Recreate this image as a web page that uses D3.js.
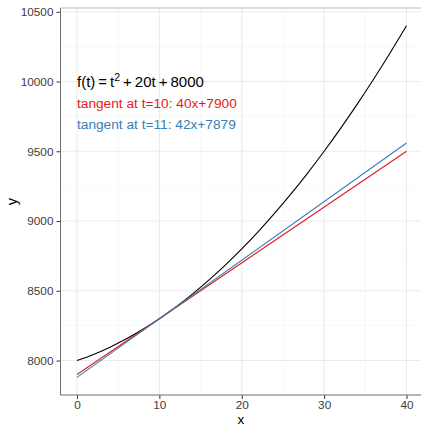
<!DOCTYPE html>
<html>
<head>
<meta charset="utf-8">
<script src="https://cdn.jsdelivr.net/npm/d3@7"></script>
<style>
  body { margin: 0; background: #fff; }
  text { font-family: "Liberation Sans", Arial, sans-serif; }
</style>
</head>
<body>
<div id="svg-container"></div>
<script>
////////////////////////////////////////////////////////////////////
////////////////////////////  Data  ////////////////////////////////
// curve f(t), read off at every 2 units of t
const curveT = [0, 2, 4, 6, 8, 10, 12, 14, 16, 18, 20, 22, 24, 26, 28, 30, 32, 34, 36, 38, 40];
const curveY = [8000, 8044, 8096, 8156, 8224, 8300, 8384, 8476, 8576, 8684, 8800,
  8924, 9056, 9196, 9344, 9500, 9664, 9836, 10016, 10204, 10400];

// tangents (straight, two ends each)
const tangentT = [0, 40];
const tangent10 = [7900, 9500];
const tangent11 = [7879, 9559];

const xTicks = [0, 10, 20, 30, 40];
const xMinor = [5, 15, 25, 35];
const yTicks = [8000, 8500, 9000, 9500, 10000, 10500];
const yMinor = [7750, 8250, 8750, 9250, 9750, 10250];

const labels = [
  { text: "tangent at t=10: 40x+7900", color: "#E41A1C" },
  { text: "tangent at t=11: 42x+7879", color: "#377EB8" }
];

////////////////////////////////////////////////////////////////////
////////////////////////////  Init  ////////////////////////////////
const width = 422;
const height = 425;
const margin = { top: 8, right: 1, bottom: 30, left: 60.5 };

const svg = d3.select("#svg-container").append("svg")
  .attr("width", width)
  .attr("height", height);

// scales (5% padding on each side, like ggplot)
const xScale = d3.scaleLinear().domain([-2, 42]).range([margin.left, 423]);
const yScale = d3.scaleLinear().domain([7753, 10527]).range([height - margin.bottom, margin.top]);

const x0 = margin.left, x1 = width - margin.right;
const y0 = margin.top, y1 = height - margin.bottom;

// grid
svg.append("g").selectAll("line").data(yMinor.filter(d => yScale(d) > y0 && yScale(d) < y1))
  .join("line")
  .attr("x1", x0).attr("x2", x1)
  .attr("y1", d => yScale(d)).attr("y2", d => yScale(d))
  .attr("stroke", "#F3F3F3").attr("stroke-width", 0.6);
svg.append("g").selectAll("line").data(xMinor)
  .join("line")
  .attr("y1", y0).attr("y2", y1)
  .attr("x1", d => xScale(d)).attr("x2", d => xScale(d))
  .attr("stroke", "#F3F3F3").attr("stroke-width", 0.6);
svg.append("g").selectAll("line").data(yTicks)
  .join("line")
  .attr("x1", x0).attr("x2", x1)
  .attr("y1", d => yScale(d)).attr("y2", d => yScale(d))
  .attr("stroke", "#EBEBEB").attr("stroke-width", 1.1);
svg.append("g").selectAll("line").data(xTicks)
  .join("line")
  .attr("y1", y0).attr("y2", y1)
  .attr("x1", d => xScale(d)).attr("x2", d => xScale(d))
  .attr("stroke", "#EBEBEB").attr("stroke-width", 1.1);

// top border
svg.append("line")
  .attr("x1", x0).attr("x2", x1).attr("y1", y0).attr("y2", y0)
  .attr("stroke", "#BDBDBD").attr("stroke-width", 1);

// lines
const line = d3.line()
  .x((d) => xScale(d[0]))
  .y((d) => yScale(d[1]));

svg.append("path")
  .datum(curveT.map((t, i) => [t, curveY[i]]))
  .attr("fill", "none").attr("stroke", "#000").attr("stroke-width", 1.1)
  .attr("d", line.curve(d3.curveNatural));

line.curve(d3.curveLinear);
svg.append("path")
  .datum(tangentT.map((t, i) => [t, tangent10[i]]))
  .attr("fill", "none").attr("stroke", "#E41A1C").attr("stroke-width", 1.1)
  .attr("d", line);
svg.append("path")
  .datum(tangentT.map((t, i) => [t, tangent11[i]]))
  .attr("fill", "none").attr("stroke", "#377EB8").attr("stroke-width", 1.1)
  .attr("d", line);

// axes
const xAxis = d3.axisBottom(xScale).tickValues(xTicks).tickSize(4).tickPadding(2).tickFormat(d3.format("d"));
const yAxis = d3.axisLeft(yScale).tickValues(yTicks).tickSize(4).tickPadding(3).tickFormat(d3.format("d"));

const gx = svg.append("g")
  .attr("transform", `translate(0,${y1})`)
  .call(xAxis);
const gy = svg.append("g")
  .attr("transform", `translate(${x0},0)`)
  .call(yAxis);

[gx, gy].forEach((g) => {
  g.select(".domain").remove();
  g.selectAll(".tick line").attr("stroke", "#333");
  g.selectAll(".tick text")
    .attr("fill", "#3d3d3d")
    .style("font-size", "11.8px")
    .style("font-family", '"Liberation Sans", Arial, sans-serif');
});

svg.append("line")
  .attr("x1", x0).attr("x2", x1).attr("y1", y1).attr("y2", y1)
  .attr("stroke", "#6E6E6E").attr("stroke-width", 1);
svg.append("line")
  .attr("x1", x0).attr("x2", x0).attr("y1", y0).attr("y2", y1)
  .attr("stroke", "#6E6E6E").attr("stroke-width", 1);

// axis titles
svg.append("text")
  .attr("x", (x0 + x1) / 2).attr("y", 423.5)
  .attr("text-anchor", "middle")
  .style("font-size", "13.5px")
  .text("x");
svg.append("text")
  .attr("transform", `translate(17,${(y0 + y1) / 2}) rotate(-90)`)
  .attr("text-anchor", "middle")
  .style("font-size", "14.5px")
  .text("y");

// annotations
const fx = svg.append("text")
  .attr("x", xScale(0)).attr("y", 87)
  .style("font-size", "15px")
  .attr("fill", "#000");
fx.append("tspan").text("f(t)\u2009=\u2009t");
fx.append("tspan").attr("dy", -6).style("font-size", "10.5px").text("2");
fx.append("tspan").attr("dy", 6).text("\u2009+\u200920t\u2009+\u20098000");

svg.append("g").selectAll("text").data(labels)
  .join("text")
  .attr("x", xScale(0))
  .attr("y", (d, i) => 108 + i * 20.5)
  .attr("fill", (d) => d.color)
  .style("font-size", "13.7px")
  .text((d) => d.text);
</script>
</body>
</html>
